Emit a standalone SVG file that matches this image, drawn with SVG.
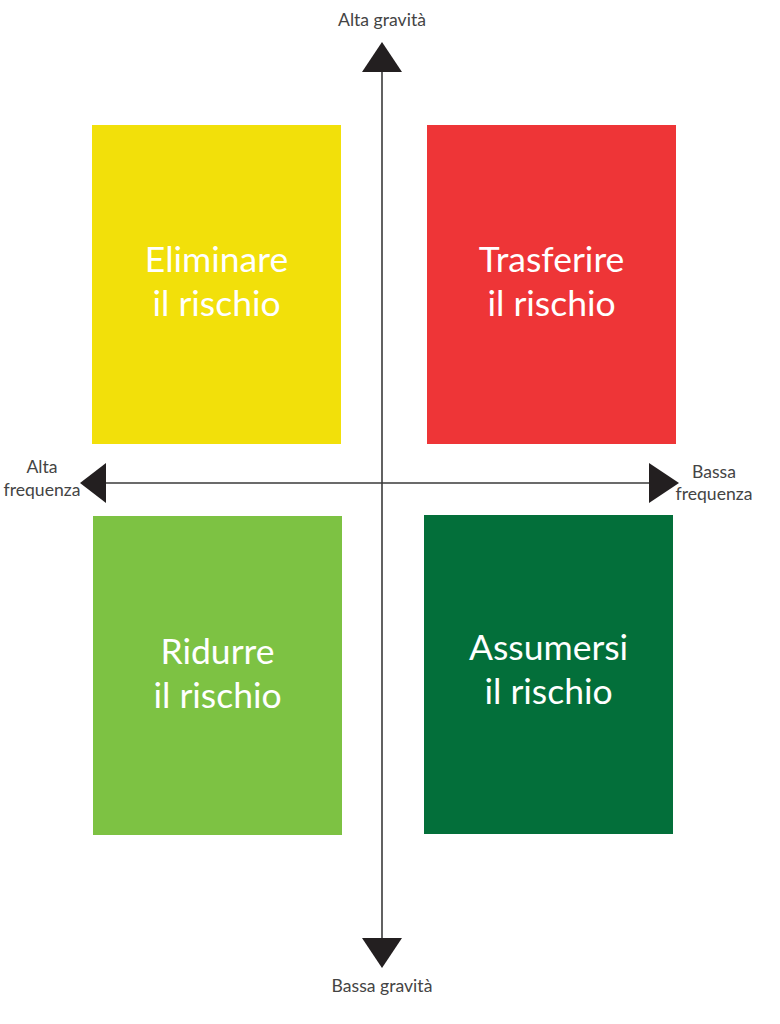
<svg xmlns="http://www.w3.org/2000/svg" width="780" height="1024" viewBox="0 0 780 1024">
<style>
.box-label{font-family:Lato,"Open Sans","Liberation Sans",sans-serif;font-size:35.5px;fill:#ffffff;text-anchor:middle}
.axis-label{font-family:Lato,"Open Sans","Liberation Sans",sans-serif;font-size:17.6px;fill:#444444;text-anchor:middle}
.axis{stroke:#3a3a3a;stroke-width:1.6;fill:none}
.head{fill:#231f20}
</style>
<rect width="780" height="1024" fill="#ffffff"/>
<g id="connectors">
<line class="axis" x1="382" y1="70" x2="382" y2="940"/>
<line class="axis" x1="104" y1="483" x2="652" y2="483"/>
<polygon class="head" points="382,42 402,72 362,72"/>
<polygon class="head" points="382,968 402,938 362,938"/>
<polygon class="head" points="80,483 106,463 106,503"/>
<polygon class="head" points="679,483 649,463 649,503"/>
</g>
<g id="eliminare">
<rect x="92" y="125" width="249" height="319" fill="#F2E00A"/>
<text class="box-label" x="216.5" y="272">Eliminare</text>
<text class="box-label" x="216.5" y="316">il rischio</text>
</g>
<g id="trasferire">
<rect x="427" y="125" width="249" height="319" fill="#EE3537"/>
<text class="box-label" x="551.5" y="272">Trasferire</text>
<text class="box-label" x="551.5" y="316">il rischio</text>
</g>
<g id="ridurre">
<rect x="93" y="516" width="249" height="319" fill="#7DC243"/>
<text class="box-label" x="217.5" y="664">Ridurre</text>
<text class="box-label" x="217.5" y="708">il rischio</text>
</g>
<g id="assumersi">
<rect x="424" y="515" width="249" height="319" fill="#036F3A"/>
<text class="box-label" x="548.5" y="660">Assumersi</text>
<text class="box-label" x="548.5" y="704">il rischio</text>
</g>
<g id="label-alta-gravita"><text class="axis-label" x="382" y="26">Alta gravità</text></g>
<g id="label-bassa-gravita"><text class="axis-label" x="382" y="992">Bassa gravità</text></g>
<g id="label-alta-frequenza">
<text class="axis-label" x="42" y="473">Alta</text>
<text class="axis-label" x="42" y="496">frequenza</text>
</g>
<g id="label-bassa-frequenza">
<text class="axis-label" x="714" y="478">Bassa</text>
<text class="axis-label" x="714" y="500">frequenza</text>
</g>
</svg>
